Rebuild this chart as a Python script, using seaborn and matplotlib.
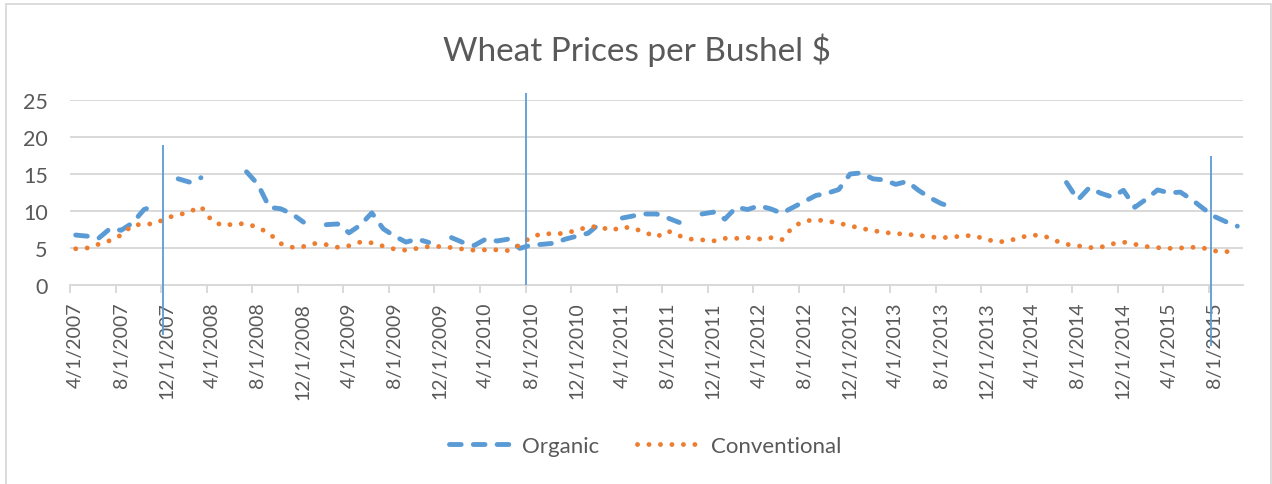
import numpy as np
import pandas as pd
import matplotlib
matplotlib.use("Agg")
import matplotlib.pyplot as plt
import seaborn as sns
from matplotlib.lines import Line2D

# ---------------- data ----------------
# monthly observations, 4/1/2007 .. 10/1/2015 (103 months)
conventional = [4.9, 5.0, 5.5, 6.0, 6.75, 8.1, 8.2, 8.3, 9.1, 9.45,
                9.9, 10.6, 8.6, 8.0, 8.3, 8.25, 7.8, 6.95, 5.6, 5.1,
                5.2, 5.6, 5.45, 5.1, 5.3, 5.8, 5.7, 5.25, 4.85, 4.7,
                4.95, 5.2, 5.2, 5.05, 4.85, 4.7, 4.75, 4.75, 4.65, 5.4,
                6.5, 6.95, 6.9, 7.0, 7.4, 7.85, 7.9, 7.35, 7.85, 7.65,
                7.1, 6.5, 7.3, 6.65, 6.2, 6.1, 5.95, 6.3, 6.3, 6.4,
                6.2, 6.4, 6.1, 7.9, 8.65, 8.8, 8.65, 8.35, 8.0, 7.65,
                7.35, 7.1, 6.95, 6.85, 6.7, 6.5, 6.4, 6.45, 6.7, 6.6,
                6.15, 5.8, 6.0, 6.45, 6.75, 6.65, 6.0, 5.5, 5.3, 5.05,
                5.1, 5.55, 5.8, 5.5, 5.2, 5.05, 4.95, 5.0, 5.1, 5.0,
                4.6, 4.5, 4.6]

organic = [6.75, 6.6, 6.3, 7.6, 7.4, 8.4, 10.2, 10.75, None, 14.35,
           13.9, 14.5, None, None, None, 15.3, 13.6, 10.5, 10.3, 9.6,
           8.5, None, 8.15, 8.25, 7.05, 8.1, 9.75, 7.6, 6.6, 5.8,
           6.2, 5.75, None, 6.4, 5.75, 5.35, 6.2, 5.95, 6.2, 4.95,
           5.4, 5.5, 5.65, 6.2, 6.6, 7.0, 8.3, None, 9.05, 9.35,
           9.6, 9.6, 9.05, 8.45, None, 9.6, 9.85, 8.9, 10.5, 10.2,
           10.7, 10.3, 9.7, 10.5, 11.3, 12.1, 12.4, 12.9, 15.0, 15.15,
           14.35, 14.2, 13.6, 14.0, 12.8, 11.8, 11.0, 10.5, None, None,
           None, None, None, None, None, None, None, 13.85, 11.5, 13.15,
           12.4, 11.9, 12.8, 10.5, 11.6, 12.85, 12.45, 12.55, 11.55, 10.35,
           9.25, 8.55, 7.95]

tick_labels = ["4/1/2007", "8/1/2007", "12/1/2007", "4/1/2008", "8/1/2008",
               "12/1/2008", "4/1/2009", "8/1/2009", "12/1/2009", "4/1/2010",
               "8/1/2010", "12/1/2010", "4/1/2011", "8/1/2011", "12/1/2011",
               "4/1/2012", "8/1/2012", "12/1/2012", "4/1/2013", "8/1/2013",
               "12/1/2013", "4/1/2014", "8/1/2014", "12/1/2014", "4/1/2015",
               "8/1/2015"]

# thin vertical marker lines (month position, bottom value, top value)
marker_month = [7.64, 39.52, 99.65]
marker_low = [-6.8, 0.0, -8.2]
marker_high = [18.9, 25.9, 17.4]

title = "Wheat Prices per Bushel $"
series_names = ["Organic", "Conventional"]

# ---------------- frames ----------------
n = len(conventional)
month = np.arange(n)
org = pd.Series(organic, dtype=float)
seg = org.isna().cumsum()
df_org = pd.DataFrame({"month": month, "price": org, "seg": seg}).dropna()
df_con = pd.DataFrame({"month": month, "price": conventional})

BLUE = "#5B9BD5"
ORANGE = "#ED7D31"
GRID = "#D9D9D9"
TXT = "#595959"

sns.set_theme(style="white")
plt.rcParams['font.family'] = ['Lato', 'DejaVu Sans']

W, H = 1272, 485
fig = plt.figure(figsize=(W / 100, H / 100), dpi=100)
fig.patch.set_facecolor("white")
ax = fig.add_axes([70 / W, 1 - 286 / H, (1243 - 70) / W, (286 - 101) / H])

LW = 3.5
DASH = (0, (2.4, 2.5))
DOT = (0, (0.01, 2.35))
sns.lineplot(data=df_org, x="month", y="price", units="seg", estimator=None,
             color=BLUE, lw=LW, linestyle=DASH,
             dash_capstyle="round", solid_capstyle="round", ax=ax, legend=False)
sns.lineplot(data=df_con, x="month", y="price", estimator=None,
             color=ORANGE, lw=LW, linestyle=DOT,
             dash_capstyle="round", ax=ax, legend=False)

ax.vlines(marker_month, marker_low, marker_high, colors=BLUE, lw=1.3,
          clip_on=False, zorder=5)

ax.set_xlim(-0.5, n - 0.5)
ax.set_ylim(0, 25)
ax.set_xlabel("")
ax.set_ylabel("")

ax.set_yticks([0, 5, 10, 15, 20, 25])
ax.yaxis.grid(True, color=GRID, lw=1.4)
ax.set_axisbelow(True)
ax.tick_params(axis="y", length=0, pad=16, labelsize=15.5, labelcolor=TXT)

ax.set_xticks(np.arange(0, n, 4)[:len(tick_labels)])
ax.set_xticklabels(tick_labels, rotation=90, va="top", ha="center")
ax.set_xticks(np.arange(-0.5, n - 1, 4), minor=True)
ax.tick_params(axis="x", which="major", length=0, pad=12, labelsize=14,
               labelcolor=TXT)
ax.tick_params(axis="x", which="minor", length=6, width=1.4, color=GRID,
               direction="out", bottom=True)

for s in ["top", "right", "left"]:
    ax.spines[s].set_visible(False)
ax.spines["bottom"].set_color(GRID)
ax.spines["bottom"].set_linewidth(1.4)

fig.text(637 / W, 1 - 61 / H, title, ha="center", va="baseline",
         fontsize=24, color=TXT, fontweight="normal")

handles = [Line2D([], [], color=BLUE, lw=LW, linestyle=DASH,
                  dash_capstyle="round"),
           Line2D([], [], color=ORANGE, lw=LW, linestyle=DOT,
                  dash_capstyle="round")]
leg = fig.legend(handles, series_names, loc="center",
                 bbox_to_anchor=(645 / W, 1 - 447 / H), ncol=2, frameon=False,
                 fontsize=16, handlelength=2.7, handletextpad=0.6,
                 columnspacing=1.7)
for t in leg.get_texts():
    t.set_color(TXT)

# chart-area border
for (x0, y0, x1, y1) in [(6, 5, 1271, 5), (6, 5, 6, 490), (1271, 5, 1271, 490)]:
    fig.add_artist(Line2D([x0 / W, x1 / W], [1 - y0 / H, 1 - y1 / H],
                          color=GRID, lw=1.3, transform=fig.transFigure))

fig.savefig("out.png", dpi=100)
